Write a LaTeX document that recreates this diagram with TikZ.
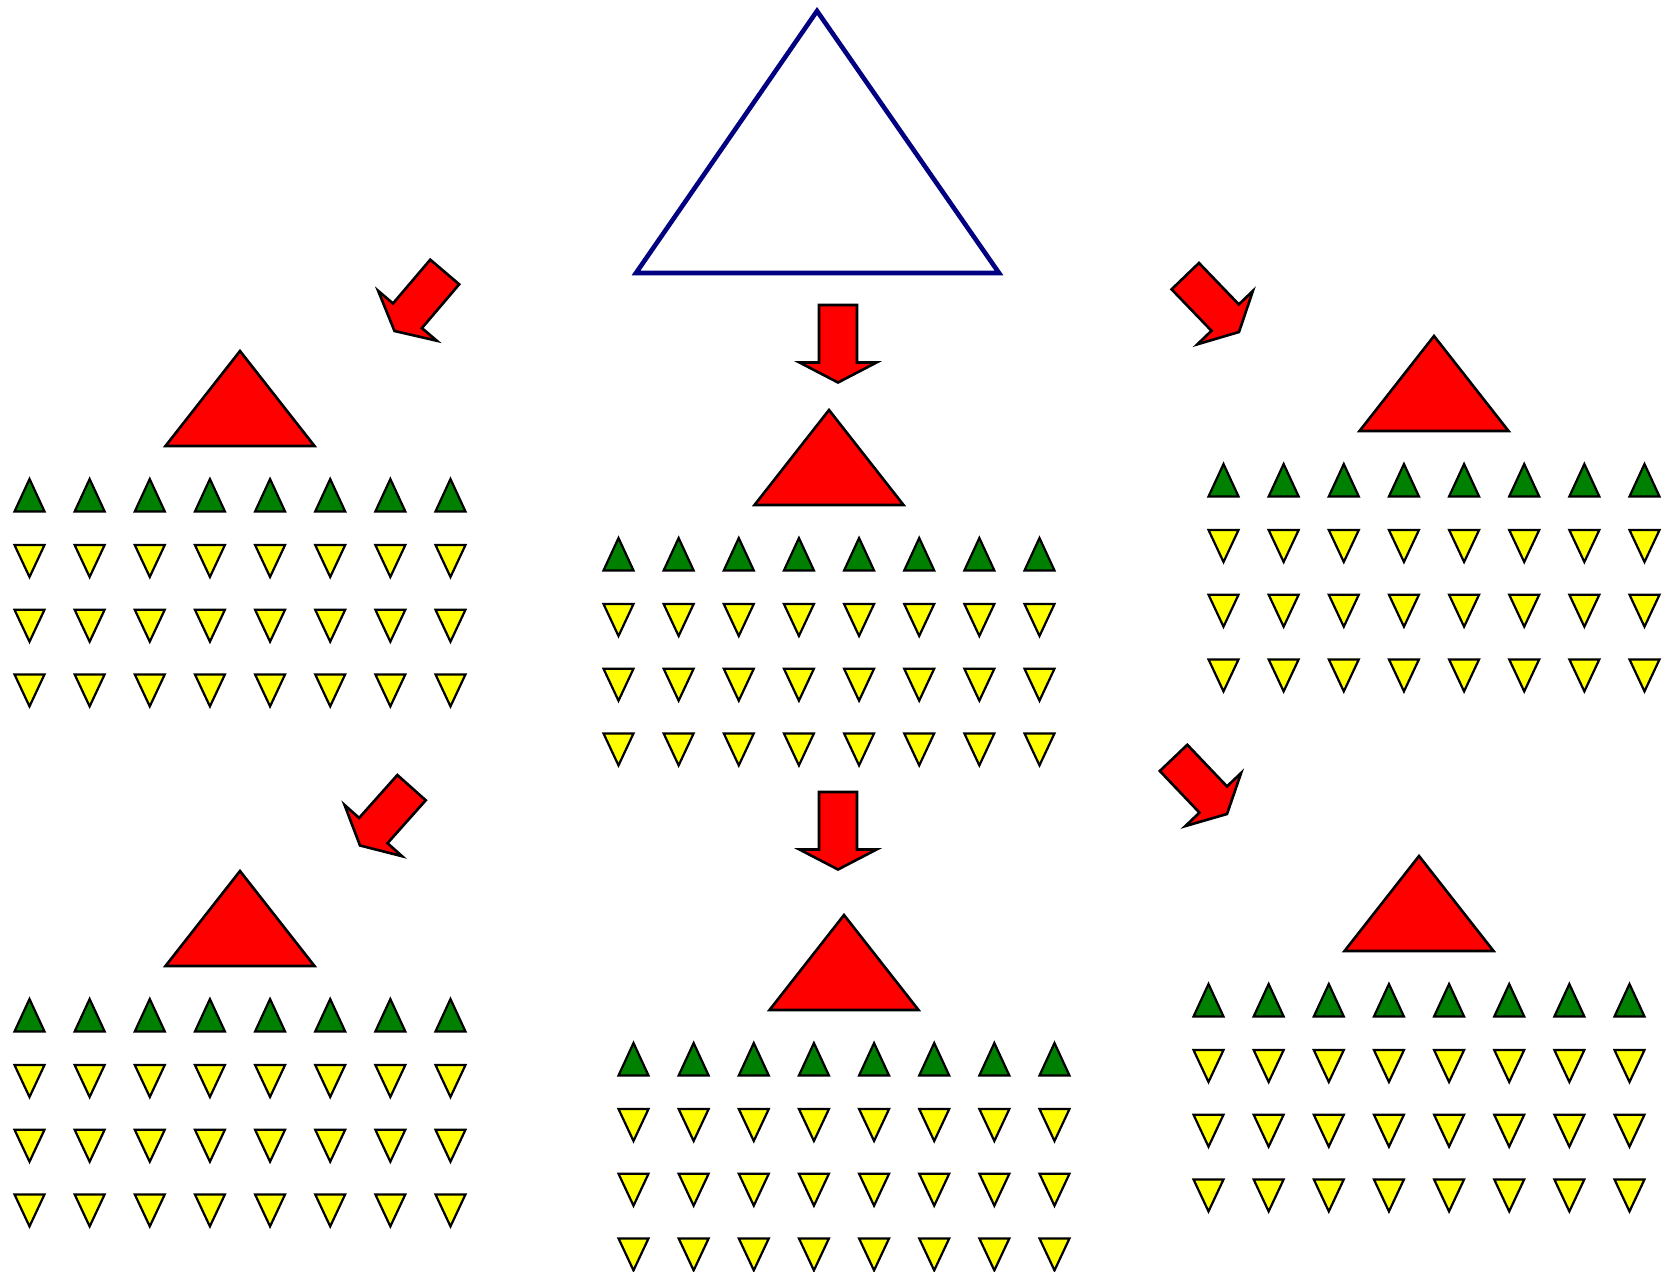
\documentclass[tikz,border=0pt]{standalone}
\definecolor{navyc}{RGB}{0,0,128}
\definecolor{redc}{RGB}{255,0,0}
\definecolor{greenc}{RGB}{0,128,0}
\definecolor{yellowc}{RGB}{255,255,0}
\tikzset{
  bigtri/.style={draw=navyc, line width=2.3pt, fill=white, line join=miter},
  redtri/.style={draw=black, line width=1.3pt, fill=redc, line join=miter},
  greentri/.style={draw=black, line width=1.1pt, fill=greenc, line join=miter},
  yellowtri/.style={draw=black, line width=1.1pt, fill=yellowc, line join=miter},
  blockarrow/.style={draw=black, line width=1.3pt, fill=redc, line join=miter},
}
\newcommand\trigroup[2]{%
  \begin{scope}[shift={(#1,#2)}]
    \draw[redtri] (-74.5,97) -- (0,2) -- (74.5,97) -- cycle;
    \foreach \i in {0,...,7}{
      \pgfmathsetmacro\cx{-210.5+60.14*\i}
      \draw[greentri] (\cx-15,162.5) -- (\cx,130) -- (\cx+15,162.5) -- cycle;
      \foreach \r in {0,1,2}{
        \pgfmathsetmacro\ty{196+64.7*\r}
        \draw[yellowtri] (\cx-15,\ty) -- (\cx+15,\ty) -- (\cx,\ty+32) -- cycle;
      }
    }
  \end{scope}}
\newcommand\blockarr[3]{%
  \draw[blockarrow, shift={(#1,#2)}, rotate=#3]
    (-19,-77.5) -- (19,-77.5) -- (19,-20) -- (38.5,-20) -- (0,0) -- (-38.5,-20) -- (-19,-20) -- cycle;}
\begin{document}
\begin{tikzpicture}[x=0.5pt,y=-0.5pt]
  \fill[white] (0,0) rectangle (1673,1272);
  \useasboundingbox (0,0) rectangle (1673,1272);
  % big triangle
  \draw[bigtri] (636,273) -- (817,11) -- (999,273) -- cycle;
  % groups
  \trigroup{240}{349}
  \trigroup{829}{408}
  \trigroup{1434}{334}
  \trigroup{240}{869}
  \trigroup{844}{913}
  \trigroup{1419}{854}
  % arrows
  \blockarr{838}{382.5}{0}
  \blockarr{838}{869.5}{0}
  \blockarr{394.5}{331}{-40.4}
  \blockarr{1239}{332}{43.9}
  \blockarr{360}{845.5}{-41.7}
  \blockarr{1227}{814}{43.6}
\end{tikzpicture}
\end{document}
